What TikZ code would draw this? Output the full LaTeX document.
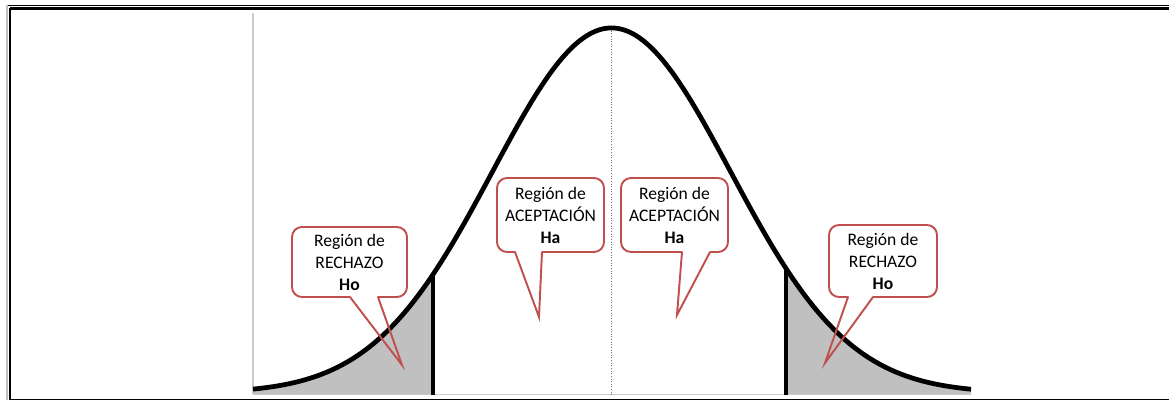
\documentclass[tikz,border=0pt]{standalone}
\usepackage{fontspec}
\setmainfont{Carlito}

\definecolor{bubblered}{HTML}{C0504D}
\definecolor{tailgray}{HTML}{C0C0C0}

\begin{document}
\begin{tikzpicture}[font=\fontsize{10}{12.5}\selectfont,
    bubble/.style={draw=bubblered, line width=1.1pt, fill=white,
      rounded corners=0.2cm, align=center, inner sep=0pt, outer sep=0pt},
    pointer/.style={draw=bubblered, line width=1.1pt, line cap=round,
      line join=miter}]

      \useasboundingbox (0, 0) rectangle (23.38, 8.02);

      \draw [line width=0.6pt] (0.14, 7.91) -- (23.38, 7.91);
      \draw [line width=1.2pt] (0.2, 7.85) -- (23.38, 7.85);
      \draw [black!25, line width=0.6pt] (0.14, 7.91) -- (0.14, 0.03);
      \draw [line width=1.2pt] (0.2, 7.85) -- (0.2, 0.03);
      \draw [line width=0.9pt] (0.2, 0.03) -- (23.38, 0.03);

      \draw [black!20, line width=0.6pt] (5.06, 7.76) -- (5.06, 0.14);
      \draw [black!20, line width=0.8pt] (5.06, 0.13) -- (19.42, 0.13);

      \fill [tailgray] (5.06, 0.14)
        -- plot [domain=5.06:8.66, samples=40] (\x, {0.16+7.30*exp(-(\x-12.23)*(\x-12.23)/11.33)})
        -- (8.66, 0.14) -- cycle;
      \fill [tailgray] (15.72, 0.14)
        -- plot [domain=15.72:19.42, samples=40] (\x, {0.16+7.30*exp(-(\x-12.23)*(\x-12.23)/11.33)})
        -- (19.42, 0.14) -- cycle;

      \draw [black!55, densely dotted, line width=0.5pt] (12.23, 7.46) -- (12.23, 0.12);
      \draw [line width=2pt] (8.66, 0.12) -- (8.66, 2.53);
      \draw [line width=2pt] (15.72, 0.12) -- (15.72, 2.65);
      \draw [line width=2.7pt, smooth]
        plot [domain=5.06:19.42, samples=150] (\x, {0.16+7.30*exp(-(\x-12.23)*(\x-12.23)/11.33)});

      \node [bubble, minimum width=2.30cm, minimum height=1.40cm] (rechazoL) at (6.99, 2.78)
        {Región de\\RECHAZO\\\textbf{Ho}};
      \coordinate (rechazoLtip) at (8.04, 0.72);
      \fill [white] ([xshift=0.01cm, yshift=-1pt]rechazoL.south) rectangle ([xshift=0.57cm, yshift=1pt]rechazoL.south);
      \draw [pointer] ([xshift=0.01cm]rechazoL.south) -- (rechazoLtip) -- ([xshift=0.57cm]rechazoL.south);

      \node [bubble, minimum width=2.14cm, minimum height=1.48cm] (aceptacionL) at (11.01, 3.72)
        {Región de\\ACEPTACIÓN\\\textbf{Ha}};
      \coordinate (aceptacionLtip) at (10.78, 1.68);
      \fill [white] ([xshift=-0.71cm, yshift=-1pt]aceptacionL.south) rectangle ([xshift=-0.17cm, yshift=1pt]aceptacionL.south);
      \draw [pointer] ([xshift=-0.71cm]aceptacionL.south) -- (aceptacionLtip) -- ([xshift=-0.17cm]aceptacionL.south);

      \node [bubble, minimum width=2.14cm, minimum height=1.48cm] (aceptacionR) at (13.49, 3.72)
        {Región de\\ACEPTACIÓN\\\textbf{Ha}};
      \coordinate (aceptacionRtip) at (13.54, 1.72);
      \fill [white] ([xshift=0.15cm, yshift=-1pt]aceptacionR.south) rectangle ([xshift=0.71cm, yshift=1pt]aceptacionR.south);
      \draw [pointer] ([xshift=0.15cm]aceptacionR.south) -- (aceptacionRtip) -- ([xshift=0.71cm]aceptacionR.south);

      \node [bubble, minimum width=2.16cm, minimum height=1.44cm] (rechazoR) at (17.66, 2.80)
        {Región de\\RECHAZO\\\textbf{Ho}};
      \coordinate (rechazoRtip) at (16.50, 0.76);
      \fill [white] ([xshift=-0.70cm, yshift=-1pt]rechazoR.south) rectangle ([xshift=-0.20cm, yshift=1pt]rechazoR.south);
      \draw [pointer] ([xshift=-0.70cm]rechazoR.south) -- (rechazoRtip) -- ([xshift=-0.20cm]rechazoR.south);
    \end{tikzpicture}
\end{document}
